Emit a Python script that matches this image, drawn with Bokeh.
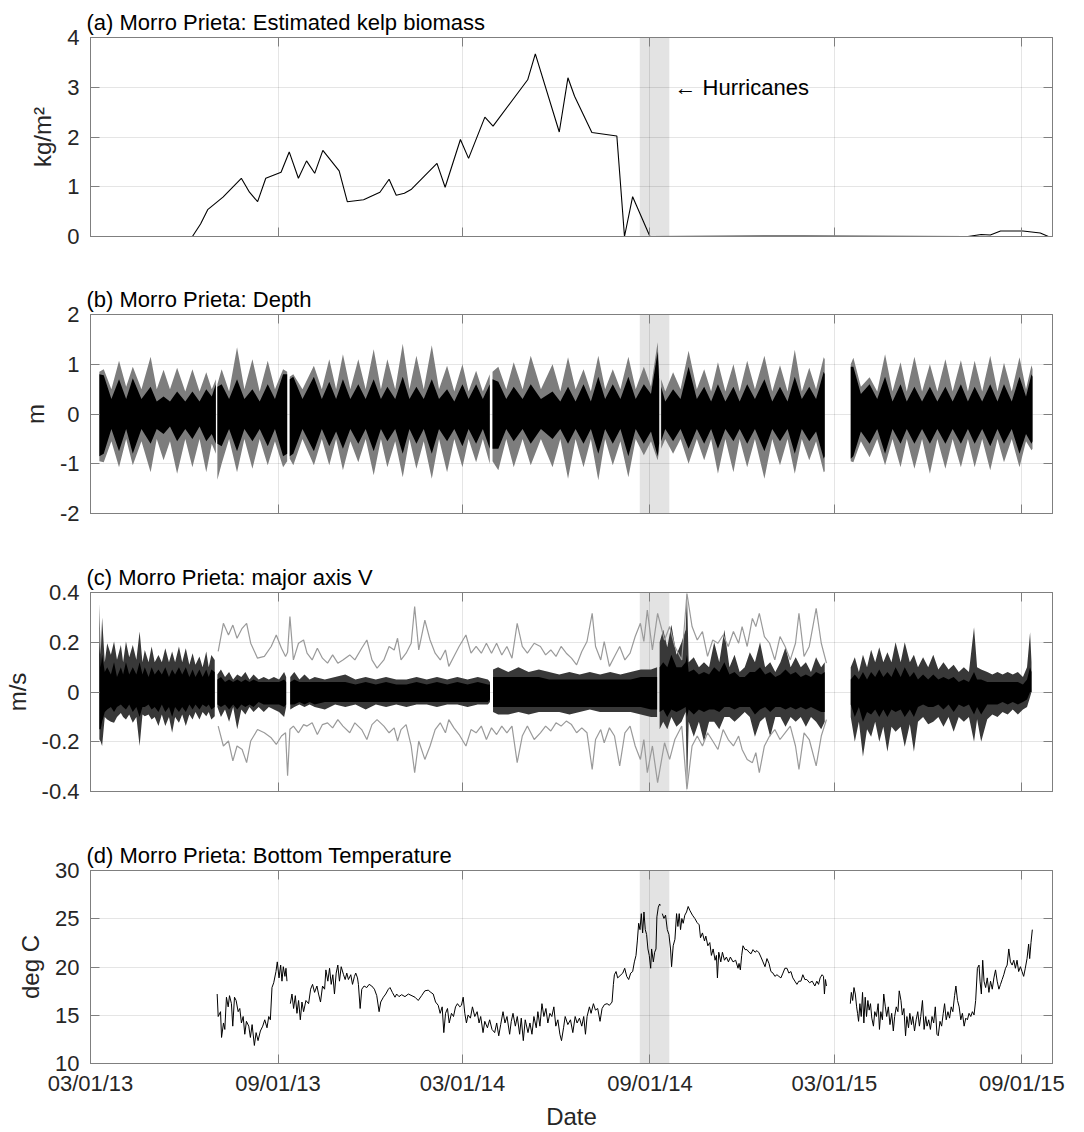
import numpy as np
from bokeh.plotting import figure
from bokeh.layouts import column
from bokeh.models import (FixedTicker, CustomJSTickFormatter, LinearAxis, Range1d,
                          BoxAnnotation, Label)
from bokeh.embed import file_html
from bokeh.resources import INLINE

NAN = float("nan")

# ---------------------------------------------------------------- data
START_DATE = "2013-03-01"          # day 0 of every *_day array below
END_DATE = "2015-10-01"
x_tick_dates = ["2013-03-01", "2013-09-01", "2014-03-01", "2014-09-01", "2015-03-01", "2015-09-01"]
x_tick_labels = ["03/01/13", "09/01/13", "03/01/14", "09/01/14", "03/01/15", "09/01/15"]
hurricane_window = ["2014-08-22", "2014-09-20"]
hurricane_label_date = "2014-09-25"

# (a) kelp biomass, kg/m2
kelp_day = [60, 100, 108, 115, 130, 148, 156, 164, 172, 187, 195, 204, 212, 220, 228, 244, 252,
            268, 284, 293, 300, 308, 315, 340, 348, 363, 371, 387, 395, 429, 436.5, 460, 468.5,
            475, 492, 516.5, 524, 532, 549, 700, 861, 874, 883, 893, 915, 932, 940]
kelp_val = [0, 0, 0.25, 0.54, 0.79, 1.17, 0.89, 0.70, 1.17, 1.29, 1.70, 1.17, 1.52, 1.27, 1.73,
            1.32, 0.70, 0.74, 0.89, 1.15, 0.83, 0.87, 0.95, 1.47, 0.99, 1.95, 1.57, 2.40, 2.22,
            3.15, 3.67, 2.10, 3.19, 2.82, 2.09, 2.02, 0, 0.80, 0, 0.01, 0, 0.04, 0.03, 0.11,
            0.11, 0.07, 0]

# (b) depth envelopes (m): grey = full signal, black = inner signal; NaN = data gap
depth_day = [8.7, 13, 20.5, 28, 35, 41.5, 50, 59, 65, 71.7, 78, 85, 93, 100, 107, 113.6, 119, 123, NAN,
             124.5, 128.7, 136, 143.8, 151, 158.9, 166, 173.9, 181, 189, 193, NAN,
             195.5, 199, 208, 219.2, 227, 234.3, 241, 247.7, 255, 262.8, 270, 277.9, 285, 291.3, 299,
             306.4, 313, 319.8, 327, 334.9, 342, 349.9, 357, 365, 371, 378.4, 385, 391.8, NAN,
             394.5, 400.2, 408, 415.3, 424, 432, 442, 453.4, 461, 468.6, 476, 483.8, 491, 498.3, 505,
             512.5, 520, 527.8, 535, 543, 550, 556.5, 558, NAN,
             560, 564, 571.7, 579, 586.9, 595, 602.2, 609, 615.7, 623, 630.9, 637, 644.4, 652, 661.3,
             669, 676.6, 684, 691.1, 698, 705.3, 712, 719.5, 720.5, NAN,
             746, 748.6, 756, 764.5, 772, 779.7, 787, 794.9, 801, 808.5, 816, 823.7, 831, 838.9, 846,
             854.1, 861, 867.6, 875, 882.9, 890, 896.4, 904, 911.6, 918, 923.4, 924.4]
depth_grey_hi = [0.85, 0.9, 0.5, 1.07, 0.55, 0.95, 0.5, 1.15, 0.5, 0.89, 0.5, 0.93, 0.45, 0.9, 0.45, 0.84, 0.5, 0.7, NAN,
                 0.6, 0.9, 0.45, 1.34, 0.5, 1.1, 0.45, 1.07, 0.5, 0.9, 0.85, NAN,
                 0.75, 0.8, 0.5, 0.97, 0.5, 1.1, 0.5, 1.2, 0.5, 1.1, 0.5, 1.3, 0.5, 1.1, 0.5,
                 1.41, 0.5, 1.17, 0.5, 1.38, 0.5, 0.97, 0.45, 1.0, 0.45, 0.87, 0.45, 0.8, NAN,
                 0.85, 0.95, 0.5, 1.04, 0.5, 1.17, 0.5, 1.0, 0.45, 1.14, 0.5, 0.9, 0.45, 1.17, 0.5,
                 0.9, 0.5, 1.15, 0.5, 0.95, 0.55, 1.44, 0.9, NAN,
                 0.7, 0.45, 0.84, 0.5, 1.27, 0.5, 0.9, 0.45, 1.04, 0.45, 1.0, 0.45, 1.07, 0.5, 1.17,
                 0.45, 0.98, 0.45, 1.29, 0.45, 0.93, 0.5, 1.14, 1.1, NAN,
                 1.0, 1.13, 0.55, 0.74, 0.45, 1.2, 0.45, 1.04, 0.45, 1.15, 0.45, 1.0, 0.45, 1.1, 0.45,
                 1.08, 0.45, 1.07, 0.45, 1.17, 0.45, 1.03, 0.45, 1.14, 0.5, 0.98, 0.9]
depth_grey_lo = [-0.95, -0.97, -0.55, -1.07, -0.5, -1.03, -0.55, -1.17, -0.5, -0.93, -0.55, -1.2, -0.5, -1.07, -0.5, -1.17, -0.6, -0.8, NAN,
                 -1.32, -1.0, -0.5, -1.17, -0.5, -1.1, -0.5, -1.03, -0.55, -1.07, -0.95, NAN,
                 -0.9, -1.03, -0.5, -1.03, -0.5, -1.03, -0.5, -1.13, -0.55, -0.97, -0.5, -1.23, -0.5, -1.07, -0.55,
                 -1.27, -0.5, -1.1, -0.55, -1.3, -0.5, -1.17, -0.5, -1.07, -0.5, -0.97, -0.5, -1.0, NAN,
                 -0.95, -1.13, -0.5, -1.07, -0.5, -1.03, -0.5, -1.07, -0.5, -1.3, -0.5, -1.07, -0.5, -1.33, -0.5,
                 -1.03, -0.55, -1.27, -0.5, -0.83, -0.55, -0.93, -0.75, NAN,
                 -0.7, -0.5, -0.8, -0.5, -1.0, -0.5, -0.93, -0.5, -1.2, -0.5, -1.17, -0.5, -1.07, -0.5, -1.3,
                 -0.5, -1.03, -0.5, -1.2, -0.5, -0.93, -0.55, -1.17, -1.15, NAN,
                 -0.95, -0.97, -0.55, -0.87, -0.5, -1.03, -0.5, -1.07, -0.5, -1.1, -0.5, -1.2, -0.5, -1.1, -0.5,
                 -1.07, -0.5, -1.07, -0.5, -1.13, -0.5, -0.97, -0.5, -1.07, -0.55, -0.73, -0.7]
depth_black_hi = [0.8, 0.78, 0.3, 0.7, 0.3, 0.72, 0.3, 0.55, 0.25, 0.35, 0.25, 0.45, 0.25, 0.45, 0.25, 0.5, 0.35, 0.6, NAN,
                  0.55, 0.6, 0.3, 0.7, 0.3, 0.5, 0.25, 0.6, 0.3, 0.8, 0.8, NAN,
                  0.7, 0.75, 0.3, 0.75, 0.3, 0.65, 0.3, 0.7, 0.3, 0.6, 0.3, 0.7, 0.3, 0.55, 0.3,
                  0.75, 0.3, 0.55, 0.3, 0.7, 0.3, 0.5, 0.25, 0.6, 0.3, 0.6, 0.3, 0.6, NAN,
                  0.7, 0.65, 0.3, 0.55, 0.3, 0.6, 0.3, 0.45, 0.25, 0.55, 0.25, 0.6, 0.25, 0.75, 0.3,
                  0.6, 0.3, 0.75, 0.3, 0.6, 0.4, 1.25, 0.7, NAN,
                  0.55, 0.25, 0.5, 0.3, 0.95, 0.3, 0.55, 0.25, 0.6, 0.25, 0.55, 0.25, 0.6, 0.3, 0.7,
                  0.25, 0.55, 0.25, 0.75, 0.3, 0.55, 0.3, 0.85, 0.8, NAN,
                  0.95, 0.95, 0.4, 0.6, 0.3, 0.75, 0.25, 0.6, 0.25, 0.55, 0.25, 0.55, 0.25, 0.55, 0.25,
                  0.6, 0.25, 0.55, 0.25, 0.6, 0.25, 0.6, 0.25, 0.75, 0.35, 0.8, 0.75]
depth_black_lo = [-0.85, -0.8, -0.3, -0.75, -0.3, -0.8, -0.3, -0.6, -0.3, -0.4, -0.25, -0.55, -0.3, -0.5, -0.25, -0.55, -0.4, -0.6, NAN,
                  -0.6, -0.65, -0.3, -0.75, -0.3, -0.55, -0.3, -0.65, -0.3, -0.85, -0.8, NAN,
                  -0.85, -0.8, -0.3, -0.75, -0.3, -0.65, -0.35, -0.7, -0.3, -0.6, -0.3, -0.75, -0.3, -0.55, -0.3,
                  -0.8, -0.3, -0.6, -0.3, -0.8, -0.3, -0.55, -0.3, -0.65, -0.3, -0.6, -0.3, -0.7, NAN,
                  -0.7, -0.7, -0.3, -0.55, -0.3, -0.6, -0.3, -0.5, -0.3, -0.6, -0.3, -0.6, -0.3, -0.8, -0.3,
                  -0.6, -0.3, -0.85, -0.3, -0.6, -0.35, -0.85, -0.6, NAN,
                  -0.55, -0.3, -0.55, -0.3, -0.7, -0.3, -0.6, -0.3, -0.7, -0.3, -0.55, -0.3, -0.6, -0.3, -0.75,
                  -0.3, -0.55, -0.3, -0.8, -0.3, -0.55, -0.35, -0.9, -0.85, NAN,
                  -0.9, -0.85, -0.35, -0.6, -0.3, -0.8, -0.3, -0.6, -0.3, -0.6, -0.3, -0.6, -0.3, -0.6, -0.3,
                  -0.6, -0.3, -0.6, -0.3, -0.65, -0.3, -0.6, -0.3, -0.8, -0.4, -0.6, -0.55]

# (c) major-axis velocity (m/s): envelope of the noisy record (outer and core), NaN = gap
vel_day = [8.7, 10, 11.4, 14, 16.4, 20, 23.1, 26, 29.8, 32, 34.8, 38, 41.5, 45, 48.2, 51, 53.3, 57, 60, 63,
           66.7, 70, 73.4, 77, 80.1, 83, 86.8, 90, 93.5, 97, 100.2, 103, 106.9, 110, 113.6, 116, 118.6, 121.9, NAN,
           124.5, 128, 132, 136, 140, 144, 148, 152, 156, 160, 165, 170, 175, 180, 185, 190, 192, NAN,
           196, 200, 205, 210, 215, 220, 230, 240, 250, 260, 270, 280, 290, 300, 310, 320, 330, 340, 350,
           360, 370, 380, 390, 392, NAN,
           395, 400, 410, 420, 430, 440, 450, 460, 470, 480, 490, 500, 510, 520, 530, 540, 550, 556, NAN,
           558.5, 562, 566, 570, 575, 580, 584, 585.3, 587, 592, 597, 602, 607, 612, 617, 622, 627, 632, 637,
           642, 647, 652, 657, 662, 667, 672, 677, 682, 687, 692, 697, 702, 707, 712, 717, 720.5, NAN,
           746, 750, 754, 758, 762, 766, 770, 774, 778, 782, 786, 790, 795, 799, 804, 808, 812, 817, 822,
           827, 832, 837, 842, 847, 852, 857, 862, 867, 870, 874, 880, 885, 890, 895, 900, 905, 910, 915,
           919, 922, 923.4]
vel_hi = [0.356, 0.15, 0.30, 0.12, 0.196, 0.15, 0.203, 0.13, 0.189, 0.12, 0.203, 0.14, 0.189, 0.13, 0.243, 0.12,
          0.169, 0.12, 0.183, 0.12, 0.149, 0.12, 0.176, 0.12, 0.163, 0.12, 0.183, 0.12, 0.176, 0.11, 0.156, 0.11,
          0.143, 0.1, 0.163, 0.1, 0.149, 0.129, NAN,
          0.07, 0.09, 0.06, 0.08, 0.05, 0.07, 0.06, 0.08, 0.05, 0.07, 0.05, 0.06, 0.05, 0.06, 0.05, 0.08, 0.06, NAN,
          0.06, 0.08, 0.05, 0.07, 0.05, 0.06, 0.05, 0.06, 0.07, 0.05, 0.06, 0.05, 0.06, 0.05, 0.05, 0.06, 0.05,
          0.06, 0.05, 0.06, 0.05, 0.06, 0.05, 0.04, NAN,
          0.09, 0.1, 0.08, 0.1, 0.08, 0.09, 0.08, 0.07, 0.08, 0.07, 0.08, 0.07, 0.08, 0.07, 0.08, 0.09, 0.09, 0.1, NAN,
          0.2, 0.25, 0.18, 0.27, 0.15, 0.2, 0.25, 0.4, 0.12, 0.14, 0.1, 0.12, 0.1, 0.2, 0.12, 0.25, 0.1, 0.15, 0.08,
          0.1, 0.16, 0.12, 0.2, 0.1, 0.12, 0.08, 0.12, 0.18, 0.1, 0.14, 0.1, 0.12, 0.08, 0.14, 0.1, 0.12, NAN,
          0.1, 0.14, 0.08, 0.15, 0.1, 0.17, 0.12, 0.18, 0.12, 0.16, 0.12, 0.2, 0.12, 0.2, 0.12, 0.15, 0.1, 0.14, 0.1,
          0.15, 0.09, 0.12, 0.09, 0.11, 0.08, 0.1, 0.08, 0.26, 0.1, 0.09, 0.08, 0.07, 0.08, 0.07, 0.08, 0.07, 0.08,
          0.06, 0.1, 0.24, 0.12]
vel_lo = [-0.19, -0.2, -0.217, -0.1, -0.111, -0.12, -0.124, -0.1, -0.084, -0.1, -0.111, -0.09, -0.124, -0.1, -0.217,
          -0.09, -0.097, -0.09, -0.111, -0.1, -0.137, -0.09, -0.137, -0.1, -0.164, -0.1, -0.124, -0.09, -0.137, -0.09,
          -0.111, -0.08, -0.111, -0.08, -0.097, -0.08, -0.111, -0.097, NAN,
          -0.06, -0.1, -0.07, -0.12, -0.06, -0.15, -0.07, -0.09, -0.06, -0.08, -0.06, -0.08, -0.06, -0.07, -0.08, -0.1, -0.06, NAN,
          -0.07, -0.06, -0.05, -0.06, -0.05, -0.06, -0.07, -0.05, -0.06, -0.05, -0.07, -0.05, -0.06, -0.05, -0.06,
          -0.05, -0.05, -0.06, -0.05, -0.05, -0.06, -0.05, -0.05, -0.04, NAN,
          -0.08, -0.09, -0.09, -0.08, -0.09, -0.08, -0.08, -0.08, -0.09, -0.08, -0.07, -0.08, -0.08, -0.08, -0.08,
          -0.09, -0.1, -0.1, NAN,
          -0.15, -0.12, -0.15, -0.1, -0.14, -0.12, -0.08, -0.4, -0.12, -0.18, -0.12, -0.2, -0.12, -0.12, -0.15, -0.1,
          -0.1, -0.12, -0.1, -0.08, -0.1, -0.18, -0.12, -0.1, -0.18, -0.1, -0.1, -0.14, -0.1, -0.12, -0.1, -0.14,
          -0.1, -0.12, -0.15, -0.12, NAN,
          -0.1, -0.2, -0.12, -0.26, -0.15, -0.18, -0.12, -0.2, -0.14, -0.24, -0.14, -0.16, -0.14, -0.22, -0.13, -0.24,
          -0.12, -0.1, -0.13, -0.12, -0.1, -0.14, -0.1, -0.16, -0.1, -0.12, -0.1, -0.2, -0.11, -0.2, -0.11, -0.09,
          -0.1, -0.08, -0.09, -0.07, -0.09, -0.07, -0.06, -0.02, 0.0]
vel_core_hi = [0.2, 0.1, 0.15, 0.08, 0.1, 0.07, 0.12, 0.06, 0.1, 0.07, 0.12, 0.07, 0.1, 0.07, 0.12, 0.07, 0.1, 0.06,
               0.1, 0.07, 0.09, 0.07, 0.1, 0.06, 0.09, 0.07, 0.1, 0.07, 0.1, 0.06, 0.09, 0.06, 0.09, 0.06, 0.09, 0.06,
               0.09, 0.08, NAN,
               0.05, 0.06, 0.04, 0.05, 0.04, 0.05, 0.04, 0.05, 0.04, 0.05, 0.04, 0.04, 0.04, 0.04, 0.04, 0.05, 0.04, NAN,
               0.04, 0.05, 0.04, 0.04, 0.04, 0.04, 0.04, 0.04, 0.04, 0.03, 0.04, 0.03, 0.04, 0.03, 0.03, 0.04, 0.03,
               0.04, 0.03, 0.04, 0.03, 0.04, 0.03, 0.03, NAN,
               0.06, 0.06, 0.06, 0.06, 0.06, 0.06, 0.05, 0.05, 0.05, 0.05, 0.05, 0.05, 0.05, 0.05, 0.05, 0.06, 0.06, 0.06, NAN,
               0.1, 0.12, 0.1, 0.15, 0.1, 0.1, 0.12, 0.15, 0.08, 0.09, 0.07, 0.08, 0.07, 0.1, 0.08, 0.12, 0.07, 0.08,
               0.06, 0.06, 0.08, 0.08, 0.1, 0.07, 0.08, 0.06, 0.07, 0.09, 0.07, 0.08, 0.06, 0.07, 0.06, 0.08, 0.07, 0.08, NAN,
               0.05, 0.07, 0.05, 0.08, 0.05, 0.08, 0.06, 0.09, 0.06, 0.08, 0.06, 0.1, 0.06, 0.1, 0.06, 0.08, 0.05, 0.07,
               0.05, 0.07, 0.05, 0.06, 0.05, 0.06, 0.04, 0.05, 0.04, 0.08, 0.05, 0.05, 0.04, 0.04, 0.04, 0.04, 0.04,
               0.04, 0.04, 0.03, 0.05, 0.1, 0.08]
vel_core_lo = [-0.15, -0.15, -0.12, -0.08, -0.07, -0.06, -0.08, -0.06, -0.05, -0.06, -0.07, -0.05, -0.08, -0.06, -0.1,
               -0.06, -0.06, -0.05, -0.07, -0.06, -0.08, -0.05, -0.08, -0.06, -0.1, -0.06, -0.08, -0.06, -0.08, -0.05,
               -0.07, -0.05, -0.07, -0.05, -0.06, -0.05, -0.07, -0.06, NAN,
               -0.05, -0.06, -0.05, -0.07, -0.05, -0.07, -0.05, -0.06, -0.05, -0.06, -0.04, -0.05, -0.05, -0.05, -0.05,
               -0.06, -0.05, NAN,
               -0.05, -0.05, -0.04, -0.05, -0.04, -0.05, -0.04, -0.04, -0.04, -0.04, -0.04, -0.04, -0.04, -0.04, -0.04,
               -0.04, -0.04, -0.04, -0.04, -0.04, -0.04, -0.04, -0.04, -0.03, NAN,
               -0.06, -0.06, -0.06, -0.06, -0.06, -0.06, -0.06, -0.06, -0.06, -0.06, -0.06, -0.06, -0.06, -0.06, -0.06,
               -0.06, -0.07, -0.07, NAN,
               -0.08, -0.07, -0.1, -0.07, -0.08, -0.07, -0.06, -0.1, -0.07, -0.09, -0.07, -0.08, -0.07, -0.07, -0.08,
               -0.06, -0.06, -0.07, -0.06, -0.06, -0.06, -0.09, -0.07, -0.06, -0.08, -0.06, -0.06, -0.07, -0.06, -0.07,
               -0.06, -0.07, -0.06, -0.07, -0.08, -0.08, NAN,
               -0.05, -0.1, -0.06, -0.12, -0.08, -0.09, -0.07, -0.1, -0.07, -0.1, -0.07, -0.08, -0.07, -0.1, -0.07, -0.1,
               -0.06, -0.05, -0.06, -0.06, -0.05, -0.07, -0.05, -0.08, -0.05, -0.06, -0.05, -0.09, -0.06, -0.09, -0.05,
               -0.05, -0.05, -0.04, -0.05, -0.04, -0.05, -0.04, -0.03, 0.0, 0.0]

# (c) grey +/- band lines (m/s)
vstd_day = [125.3, 130.4, 135.4, 139.7, 143.8, 148.8, 153.2, 157.2, 163.9, 170.6, 177.3, 182.3, 187.4, 191.4,
            193.4, 195.7, 199.1, 204.1, 209.1, 212.5, 217.5, 222.6, 227.6, 232.6, 237.6, 242.7, 247.7, 254.4,
            259.4, 266.1, 271.2, 276.2, 281.2, 287.9, 293.0, 298.0, 301.3, 304.7, 309.7, 314.7, 318.1, 322.1,
            328.1, 333.2, 338.2, 343.2, 348.3, 351.6, 356.6, 361.7, 368.4, 373.4, 378.4, 383.5, 388.5, 393.5,
            398.5, 403.6, 408.6, 413.6, 418.7, 423.7, 428.7, 435.4, 441.5, 446.6, 451.7, 456.8, 461.8, 466.9,
            472.0, 477.0, 482.1, 487.2, 492.3, 495.6, 500.7, 504.1, 509.2, 514.2, 519.3, 524.4, 529.5, 534.5,
            539.6, 543.0, 546.4, 551.4, 556.5, 563.3, 568.3, 573.4, 580.2, 585.3, 590.3, 595.4, 600.5, 605.5,
            610.6, 615.7, 620.8, 625.8, 630.9, 636.0, 639.4, 644.4, 649.5, 652.9, 656.3, 661.3, 666.4, 671.5,
            676.6, 681.6, 686.7, 691.8, 695.2, 700.2, 705.3, 712.1, 717.1, 722.2]
vstd_hi = [0.163, 0.276, 0.229, 0.269, 0.216, 0.256, 0.276, 0.196, 0.136, 0.143, 0.183, 0.229, 0.176, 0.143,
           0.16, 0.303, 0.129, 0.196, 0.209, 0.156, 0.129, 0.176, 0.136, 0.116, 0.149, 0.116, 0.129, 0.149,
           0.129, 0.176, 0.209, 0.129, 0.096, 0.129, 0.183, 0.169, 0.216, 0.129, 0.156, 0.196, 0.343, 0.169,
           0.289, 0.209, 0.156, 0.129, 0.169, 0.103, 0.143, 0.183, 0.229, 0.156, 0.183, 0.156, 0.196, 0.156,
           0.196, 0.149, 0.183, 0.136, 0.276, 0.183, 0.156, 0.196, 0.183, 0.149, 0.169, 0.143, 0.183, 0.156,
           0.136, 0.109, 0.163, 0.203, 0.316, 0.183, 0.129, 0.203, 0.103, 0.143, 0.183, 0.129, 0.156, 0.223,
           0.276, 0.203, 0.329, 0.169, 0.316, 0.209, 0.263, 0.183, 0.129, 0.396, 0.263, 0.209, 0.243, 0.143,
           0.209, 0.196, 0.229, 0.183, 0.243, 0.196, 0.263, 0.183, 0.296, 0.263, 0.316, 0.223, 0.196, 0.129,
           0.223, 0.183, 0.129, 0.196, 0.316, 0.143, 0.183, 0.336, 0.196, 0.116]
vstd_lo = [-0.137, -0.217, -0.197, -0.277, -0.217, -0.231, -0.284, -0.197, -0.151, -0.164, -0.184, -0.211, -0.177,
           -0.164, -0.337, -0.15, -0.137, -0.164, -0.131, -0.137, -0.124, -0.171, -0.131, -0.124, -0.144, -0.111,
           -0.137, -0.164, -0.124, -0.151, -0.191, -0.131, -0.111, -0.137, -0.164, -0.144, -0.197, -0.151, -0.131,
           -0.217, -0.324, -0.197, -0.271, -0.217, -0.151, -0.124, -0.164, -0.111, -0.144, -0.171, -0.217, -0.151,
           -0.164, -0.137, -0.191, -0.144, -0.171, -0.137, -0.164, -0.137, -0.284, -0.177, -0.137, -0.191, -0.164,
           -0.137, -0.157, -0.124, -0.137, -0.117, -0.131, -0.164, -0.144, -0.164, -0.311, -0.191, -0.151, -0.204,
           -0.144, -0.177, -0.297, -0.164, -0.137, -0.217, -0.271, -0.191, -0.324, -0.217, -0.364, -0.204, -0.271,
           -0.191, -0.137, -0.391, -0.217, -0.177, -0.217, -0.164, -0.197, -0.231, -0.151, -0.191, -0.217, -0.177,
           -0.231, -0.271, -0.284, -0.244, -0.324, -0.217, -0.177, -0.151, -0.191, -0.164, -0.137, -0.217, -0.311,
           -0.164, -0.191, -0.297, -0.177, -0.111]

# (d) bottom temperature (deg C), NaN = gap
temp_day = [124.3, 125.3, 127.6, 128.6, 130.5, 131.8, 133.4, 135.1, 136.4, 138.3, 139.6, 141.3, 142.9, 144.9,
            146.5, 148.1, 149.8, 151.4, 153.0, 155.3, 156.9, 158.6, 160.8, 162.5, 164.4, 166.7, 169.0, 171.0,
            173.2, 174.9, 176.5, 178.1, 179.8, 182.0, 183.3, 185.0, 186.6, 187.9, 189.2, 190.8, 191.8, 192.8, NAN,
            196.1, 197.7, 199.3, 201.0, 202.6, 204.2, 205.9, 207.5, 209.1, 211.4, 214.0, 216.0, 217.9, 219.9,
            222.2, 223.8, 225.7, 227.7, 229.7, 231.0, 232.9, 234.6, 236.2, 237.8, 239.4, 241.1, 242.7, 244.3,
            246.0, 248.3, 249.9, 251.5, 253.1, 255.4, 257.1, 259.0, 260.3, 262.0, 262.9, 264.6, 266.2, 268.5,
            271.1, 273.4, 276.0, 278.6, 280.9, 283.2, 284.8, 287.4, 289.7, 292.3, 293.9, 296.2, 298.8, 300.4,
            302.7, 305.3, 308.6, 311.9, 318.4, 321.6, 324.9, 328.1, 331.4, 334.0, 336.3, 338.6, 341.2, 343.1,
            345.1, 346.7, 348.4, 350.3, 352.0, 354.2, 356.2, 358.2, 360.1, 362.4, 364.0, 365.7, 367.3, 368.9,
            370.5, 372.8, 374.8, 377.1, 379.4, 381.3, 382.9, 385.2, 386.9, 389.5, 391.7, 394.0, 396.6, 398.6,
            400.6, 402.5, 404.8, 406.7, 408.7, 411.3, 412.9, 414.6, 416.9, 418.8, 421.1, 422.7, 424.7, 426.6,
            429.3, 431.2, 433.2, 435.1, 437.4, 439.0, 441.0, 443.0, 444.9, 446.9, 448.8, 450.8, 452.7, 454.7,
            456.6, 458.6, 460.6, 462.2, 464.2, 465.8, 468.4, 471.0, 473.3, 475.6, 477.5, 479.8, 482.1, 484.0,
            485.7, 487.3, 489.6, 491.2, 493.5, 495.5, 497.7, 500.0, 502.0, 504.3, 506.9, 509.2, 511.8, 513.1,
            514.1, 515.7, 517.3, 522.3, 524.2, 526.2, 528.1, 530.1, 532.0, 533.7, 535.3, 536.6, 537.9, 539.2,
            540.5, 541.8, 543.1, 544.4, 545.7, 547.0, 548.3, 549.7, 550.6, 552.3, 553.6, 554.9, 555.8, 557.2,
            558.5, 559.1, NAN,
            561.1, 562.7, 564.3, 566.0, 567.6, 569.2, 570.2, 571.8, 573.5, 575.1, 576.4, 577.7, 579.0, 580.3,
            581.6, 583.2, 584.9, 586.5, 588.1, 590.7, 593.0, 595.3, 597.3, 598.6, 600.5, 602.5, 603.8, 605.8,
            607.7, 609.3, 611.0, 612.9, 614.2, 615.2, 616.5, 618.5, 620.1, 622.1, 624.0, 626.0, 627.9, 630.5,
            633.1, 635.4, 636.4, 637.7, 639.0, 640.3, 642.3, 644.2, 646.2, 648.2, 650.1, 652.1, 654.0, 656.0,
            657.9, 659.9, 661.9, 663.8, 665.8, 667.7, 669.7, 671.6, 673.6, 675.5, 677.5, 679.5, 681.4, 683.4,
            685.3, 687.3, 689.2, 691.2, 693.2, 695.1, 697.1, 699.0, 701.0, 702.9, 705.6, 708.2, 710.8, 712.7,
            714.4, 716.0, 717.9, 719.3, 720.2, 721.2, 722.2, NAN,
            745.6, 746.6, 747.9, 749.2, 750.5, 751.8, 752.7, 753.7, 755.0, 756.3, 757.6, 758.9, 760.2, 761.5,
            762.8, 764.1, 765.4, 766.7, 768.3, 769.6, 771.2, 772.9, 774.2, 775.5, 777.1, 778.4, 780.0, 781.3,
            782.9, 784.5, 786.2, 787.8, 789.1, 790.7, 792.3, 793.6, 795.3, 796.6, 798.2, 799.8, 801.1, 802.7,
            804.0, 805.6, 806.9, 808.6, 810.2, 811.8, 813.4, 814.7, 816.4, 818.0, 819.6, 820.9, 822.5, 824.2,
            825.8, 827.4, 829.0, 830.6, 831.9, 833.6, 835.2, 836.8, 838.1, 839.7, 841.4, 843.0, 844.6, 846.2,
            847.9, 849.2, 850.8, 852.4, 854.0, 855.6, 857.3, 858.9, 860.5, 862.1, 863.8, 865.4, 867.0, 868.6,
            870.3, 871.9, 872.9, 874.2, 875.5, 876.8, 878.4, 880.0, 881.6, 883.2, 884.9, 886.5, 888.1, 889.7,
            891.4, 893.0, 894.6, 896.2, 897.9, 899.5, 901.1, 902.7, 904.4, 906.0, 907.6, 909.2, 910.8, 912.5,
            914.1, 915.7, 917.3, 919.0, 920.6, 921.6, 922.9, 924.2]
temp_val = [17.2, 14.87, 15.37, 12.7, 14.2, 13.53, 16.87, 15.87, 17.03, 16.2, 13.87, 16.87, 16.53, 15.37,
            15.7, 14.2, 14.87, 13.03, 14.37, 13.87, 12.7, 14.03, 11.87, 13.2, 12.37, 13.37, 13.87, 14.53,
            13.7, 14.87, 14.53, 17.87, 18.37, 19.53, 20.53, 18.87, 20.2, 18.53, 20.03, 19.03, 19.87, 18.53, NAN,
            16.2, 17.2, 15.7, 17.03, 15.2, 16.53, 14.53, 16.37, 15.37, 16.53, 16.2, 17.7, 18.2, 17.37,
            18.03, 17.2, 16.37, 18.03, 17.7, 19.7, 18.53, 19.87, 18.2, 19.2, 17.2, 19.37, 20.2, 18.53,
            20.03, 19.2, 18.7, 19.37, 18.7, 19.2, 18.2, 19.03, 19.37, 18.87, 18.2, 15.7, 17.7, 18.03,
            17.87, 18.2, 18.03, 17.7, 17.03, 15.37, 16.37, 16.87, 17.2, 17.7, 17.87, 17.37, 16.87, 17.2,
            16.93, 17.13, 16.93, 17.2, 16.87, 16.53, 17.03, 17.53, 17.6, 17.37, 17.2, 16.37, 16.03, 15.2,
            15.87, 13.2, 15.2, 15.7, 14.2, 15.2, 14.87, 15.87, 16.2, 15.87, 16.03, 16.87, 15.2, 14.2,
            15.03, 14.7, 15.87, 14.87, 15.37, 14.2, 14.87, 13.2, 14.37, 13.7, 14.53, 13.53, 13.2, 14.2,
            12.87, 14.03, 15.37, 14.2, 14.87, 13.03, 14.37, 15.2, 13.87, 14.87, 13.03, 14.7, 12.37, 14.53,
            13.2, 14.2, 13.03, 14.87, 13.7, 15.37, 13.87, 16.2, 14.87, 15.7, 14.2, 15.2, 14.87, 15.87,
            13.87, 14.53, 13.03, 12.37, 13.7, 14.87, 14.03, 14.53, 13.2, 14.87, 14.2, 14.7, 13.87, 14.87,
            13.03, 14.87, 15.87, 15.2, 16.2, 15.53, 15.7, 14.37, 15.7, 16.1, 16.2, 16.03, 16.37, 18.2,
            19.2, 19.53, 18.87, 19.37, 19.87, 19.03, 18.7, 19.37, 19.53, 20.53, 21.2, 22.7, 24.53, 23.87,
            25.53, 23.53, 25.7, 23.87, 23.37, 21.87, 21.2, 19.87, 21.87, 20.53, 21.53, 21.87, 25.2, 26.2,
            26.53, 26.37, NAN,
            25.53, 25.03, 25.37, 23.87, 23.37, 21.87, 20.03, 22.2, 22.87, 25.53, 24.2, 25.53, 23.87, 25.03,
            24.53, 25.37, 25.7, 26.27, 25.87, 25.37, 25.03, 24.6, 24.37, 23.03, 23.53, 22.7, 23.2, 22.2,
            22.53, 21.2, 21.87, 20.7, 21.2, 18.87, 21.53, 20.53, 21.53, 20.7, 21.03, 20.53, 21.03, 20.53,
            20.7, 19.87, 20.37, 19.7, 21.2, 22.2, 21.8, 21.8, 21.53, 21.37, 21.8, 21.53, 21.7, 21.47,
            21.03, 20.53, 20.03, 20.87, 20.37, 19.53, 19.37, 19.03, 19.2, 19.03, 18.87, 19.37, 19.87, 19.87,
            19.37, 19.53, 18.87, 18.53, 18.2, 18.53, 18.53, 19.2, 18.7, 18.7, 18.37, 18.53, 18.03, 18.53,
            18.2, 18.87, 19.2, 19.03, 17.2, 18.7, 18.03, NAN,
            16.2, 17.37, 16.53, 17.87, 17.2, 15.87, 15.2, 14.37, 16.2, 14.87, 17.37, 14.2, 16.87, 14.87,
            16.53, 15.53, 16.2, 14.7, 13.87, 15.37, 14.87, 16.2, 13.53, 15.37, 14.53, 17.2, 15.87, 14.87,
            15.87, 14.03, 15.2, 13.37, 14.87, 15.87, 15.37, 17.53, 16.53, 15.03, 15.7, 12.87, 14.87, 13.7,
            15.2, 14.03, 14.87, 13.37, 14.53, 15.37, 13.87, 14.87, 16.53, 13.53, 14.87, 13.87, 14.53, 13.53,
            14.87, 14.2, 15.87, 13.03, 12.87, 14.37, 13.87, 15.2, 16.2, 14.53, 15.37, 14.7, 15.87, 15.37,
            17.03, 18.03, 16.53, 15.87, 14.53, 15.2, 13.87, 14.7, 14.53, 15.2, 14.87, 15.37, 15.03, 16.53,
            19.87, 20.2, 18.53, 17.2, 20.7, 18.53, 17.87, 18.87, 17.37, 18.53, 17.7, 18.87, 19.7, 18.53,
            17.7, 18.2, 18.7, 19.2, 19.87, 20.2, 21.87, 20.53, 20.2, 20.7, 19.87, 20.7, 19.53, 20.03,
            19.53, 19.03, 19.87, 20.87, 22.37, 20.87, 22.53, 23.87]

# ---------------------------------------------------------------- helpers
DAY_MS = 86400000.0


def date_ms(s):
    return float(np.datetime64(s, "ms").astype("int64"))


START_MS = date_ms(START_DATE)


def day_ms(days):
    return START_MS + np.asarray(days, dtype=float) * DAY_MS


def split_nan(day, *cols):
    day = np.asarray(day, dtype=float)
    cols = [np.asarray(c, dtype=float) for c in cols]
    idx = list(np.where(np.isnan(day))[0])
    bounds = [-1] + idx + [len(day)]
    segs = []
    for a, b in zip(bounds[:-1], bounds[1:]):
        if b - a > 1:
            segs.append([day[a + 1:b]] + [c[a + 1:b] for c in cols])
    return segs


FONT = "Liberation Sans"
AXC = "#7f7f7f"
TXT = "#262626"
x_ticks_ms = [date_ms(d) for d in x_tick_dates]
X_FMT_CODE = "const i = vals.indexOf(tick); return i >= 0 ? labs[i] : '';"
Y_FMT_CODE = "return Number(tick.toFixed(2)).toString();"
BLANK_CODE = "return '';"


def style_axis(ax, ticks, fmt):
    ax.ticker = FixedTicker(ticks=ticks)
    ax.formatter = fmt
    ax.major_tick_in = 9
    ax.major_tick_out = 0
    ax.minor_tick_in = 0
    ax.minor_tick_out = 0
    ax.axis_line_color = AXC
    ax.major_tick_line_color = AXC
    ax.major_label_text_font = FONT
    ax.major_label_text_color = TXT
    ax.axis_label_text_font = FONT
    ax.axis_label_text_color = TXT
    ax.axis_label_text_font_style = "normal"


def make_panel(title, ylo, yhi, yticks, ylabel, height, top, bottom, last=False):
    p = figure(width=1084, height=height, x_axis_type="datetime",
               x_range=Range1d(START_MS, date_ms(END_DATE)), y_range=Range1d(ylo, yhi),
               output_backend="svg", toolbar_location=None,
               min_border_left=87, min_border_right=32, min_border_top=top, min_border_bottom=bottom)
    p.background_fill_color = "white"
    p.border_fill_color = "white"
    p.outline_line_color = AXC
    p.title.text = title
    p.title.text_font = FONT
    p.title.text_font_size = "22px"
    p.title.text_font_style = "normal"
    p.title.text_color = "black"
    p.title.align = "left"
    p.title.offset = -4
    p.title.standoff = 6

    xa = p.xaxis[0]
    if last:
        style_axis(xa, x_ticks_ms, CustomJSTickFormatter(args=dict(vals=x_ticks_ms, labs=x_tick_labels),
                                                         code=X_FMT_CODE))
        xa.major_label_text_font_size = "22px"
        xa.major_label_standoff = 7
        xa.axis_label = "Date"
        xa.axis_label_text_font_size = "24px"
        xa.axis_label_standoff = 4
    else:
        style_axis(xa, x_ticks_ms, CustomJSTickFormatter(code=BLANK_CODE))
        xa.major_label_text_font_size = "1px"
        xa.major_label_standoff = 0

    ya = p.yaxis[0]
    style_axis(ya, yticks, CustomJSTickFormatter(code=Y_FMT_CODE))
    ya.major_label_text_font_size = "22px"
    ya.major_label_standoff = 11
    ya.axis_label = ylabel
    ya.axis_label_text_font_size = "24px"
    ya.axis_label_standoff = 8

    ra = LinearAxis()
    style_axis(ra, yticks, CustomJSTickFormatter(code=BLANK_CODE))
    ra.major_label_text_font_size = "1px"
    ra.major_label_standoff = 0
    p.add_layout(ra, "right")

    ta = LinearAxis()
    style_axis(ta, x_ticks_ms, CustomJSTickFormatter(code=BLANK_CODE))
    ta.major_label_text_font_size = "1px"
    ta.major_label_standoff = 0
    p.add_layout(ta, "above")

    p.xgrid.ticker = FixedTicker(ticks=x_ticks_ms)
    p.ygrid.ticker = FixedTicker(ticks=yticks)
    for g in (p.xgrid, p.ygrid):
        g.grid_line_color = "black"
        g.grid_line_alpha = 0.1
        g.grid_line_width = 1

    p.add_layout(BoxAnnotation(left=date_ms(hurricane_window[0]), right=date_ms(hurricane_window[1]),
                               fill_color="#e3e3e3", fill_alpha=1.0, line_color=None, level="image"))
    return p


# ---------------------------------------------------------------- (a)
pa = make_panel("(a) Morro Prieta: Estimated kelp biomass", 0, 4, [0, 1, 2, 3, 4], "kg/m²", 277, 37, 41)
pa.line(day_ms(kelp_day), kelp_val, line_color="black", line_width=1.1)
pa.add_layout(Label(x=date_ms(hurricane_label_date), y=3.0, text="← Hurricanes", text_font=FONT,
                    text_font_size="22px", text_baseline="middle", text_color="black"))

# ---------------------------------------------------------------- (b)
pb = make_panel("(b) Morro Prieta: Depth", -2, 2, [-2, -1, 0, 1, 2], "m", 277, 37, 41)
for d, gh, gl, bh, bl in split_nan(depth_day, depth_grey_hi, depth_grey_lo, depth_black_hi, depth_black_lo):
    x = day_ms(d)
    pb.varea(x=x, y1=gl, y2=gh, fill_color="#7d7d7d")
    pb.varea(x=x, y1=bl, y2=bh, fill_color="black")

# ---------------------------------------------------------------- (c)
pc = make_panel("(c) Morro Prieta: major axis V", -0.4, 0.4, [-0.4, -0.2, 0, 0.2, 0.4], "m/s", 278, 38, 41)
for d, h, l, ch, cl in split_nan(vel_day, vel_hi, vel_lo, vel_core_hi, vel_core_lo):
    x = day_ms(d)
    pc.varea(x=x, y1=l, y2=h, fill_color="#383838")
    pc.varea(x=x, y1=cl, y2=ch, fill_color="black")
pc.line(day_ms(vstd_day), vstd_hi, line_color="#9a9a9a", line_width=1.2)
pc.line(day_ms(vstd_day), vstd_lo, line_color="#9a9a9a", line_width=1.2)

# ---------------------------------------------------------------- (d)
pd_ = make_panel("(d) Morro Prieta: Bottom Temperature", 10, 30, [10, 15, 20, 25, 30], "deg C", 300, 38, 63,
                 last=True)
pd_.line(day_ms(temp_day), temp_val, line_color="black", line_width=1.0)

layout = column(pa, pb, pc, pd_)
open("out.html", "w").write(file_html(layout, INLINE, title="Morro Prieta"))
